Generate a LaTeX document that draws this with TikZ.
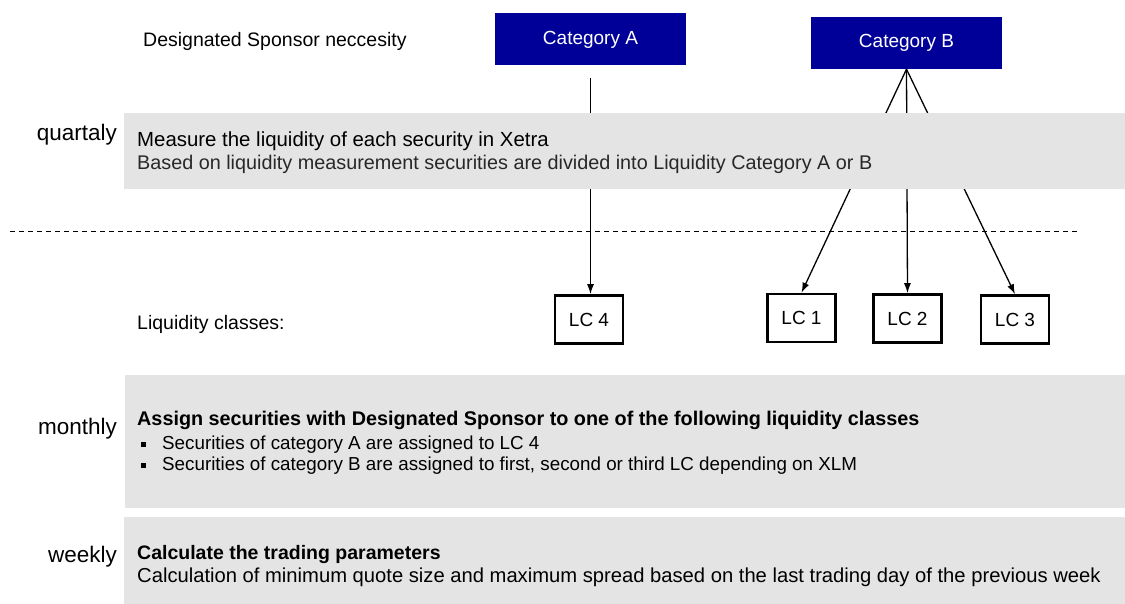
\documentclass[tikz,border=0pt]{standalone}
\usepackage{fontspec}
\setmainfont{Liberation Sans}
\usepackage{xcolor}
\usetikzlibrary{arrows.meta}

\definecolor{catblue}{RGB}{0,0,153}
\definecolor{bandgray}{RGB}{228,228,228}
\definecolor{lighttext}{RGB}{40,40,40}
\newcommand{\sqbul}{\makebox[25pt][l]{\hspace{4pt}\rule[2pt]{5pt}{5pt}}}

\begin{document}
\begin{tikzpicture}[x=1pt, y=-1pt,
	catbox/.style = {fill=catblue, text=white, minimum width=191pt, minimum height=52pt, inner sep=0pt, font=\fontsize{19}{23}\selectfont},
	lcbox/.style = {draw, line width=2.6pt, minimum width=68pt, minimum height=48pt, inner sep=0pt, font=\fontsize{19}{23}\selectfont},
	band/.style = {fill=bandgray, inner sep=0pt, anchor=north west},
	txt/.style = {anchor=base west, inner sep=0pt, font=\fontsize{19.5}{23}\selectfont},
	freq/.style = {anchor=base east, inner sep=0pt, font=\fontsize{22.5}{26}\selectfont},
	conn/.style = {line width=1.3pt, -{Latex[length=10pt, width=7pt]}}]

	\useasboundingbox (0,0) rectangle (1125,604);

	% categories and liquidity classes
	\node[txt] (need) at (143,47) {Designated Sponsor neccesity};
	\node[catbox] (catA) at (590.5,39.5) {Category A};
	\node[catbox] (catB) at (906.5,43) {Category B};

	\node[txt] (lclabel) at (137,330) {Liquidity classes:};
	\node[lcbox] (lc4) at (589,319.5) {LC 4};
	\node[lcbox] (lc1) at (801.5,318) {LC 1};
	\node[lcbox] (lc2) at (907.5,318.5) {LC 2};
	\node[lcbox] (lc3) at (1015,319.5) {LC 3};

	\draw[conn, shorten <=12pt] (catA.south) -- (catA.south |- lc4.north);
	\draw[conn] (catB.south) -- (lc1.north);
	\draw[conn] (catB.south) -- (lc2.north);
	\draw[conn] (catB.south) -- (lc3.north);

	\draw[line width=0.9pt, dash pattern=on 5pt off 4pt] (10,231) -- (1077,231);

	% quarterly step
	\node[band, minimum width=1001pt, minimum height=76pt] (quart) at (124,113) {};
	\node[freq] (fq) at ([shift={(-7,28)}]quart.north west) {quartaly};
	\node[txt, font=\fontsize{20.4}{23}\selectfont] (q1) at ([shift={(13,34)}]quart.north west) {Measure the liquidity of each security in Xetra};
	\node[txt, text=lighttext, font=\fontsize{19.8}{23}\selectfont] (q2) at ([shift={(0,23)}]q1.base west) {Based on liquidity measurement securities are divided into Liquidity Category A or B};

	% monthly step
	\node[band, minimum width=1000pt, minimum height=133pt] (month) at (125,375) {};
	\node[freq] (fm) at ([shift={(-8,59)}]month.north west) {monthly};
	\node[txt, font=\fontsize{19.8}{23}\selectfont] (m1) at ([shift={(12,50)}]month.north west) {\bfseries Assign securities with Designated Sponsor to one of the following liquidity classes};
	\node[txt, font=\fontsize{18.8}{22}\selectfont] (m2) at ([shift={(0,24)}]m1.base west) {\sqbul Securities of category A are assigned to LC 4};
	\node[txt, font=\fontsize{18.8}{22}\selectfont] (m3) at ([shift={(0,21)}]m2.base west) {\sqbul Securities of category B are assigned to first, second or third LC depending on XLM};

	% weekly step
	\node[band, minimum width=1001pt, minimum height=87pt] (week) at (124,517) {};
	\node[freq] (fw) at ([shift={(-7,45)}]week.north west) {weekly};
	\node[txt] (w1) at ([shift={(13,42)}]week.north west) {\bfseries Calculate the trading parameters};
	\node[txt, font=\fontsize{20.2}{23}\selectfont] (w2) at ([shift={(0,23)}]w1.base west) {Calculation of minimum quote size and maximum spread based on the last trading day of the previous week};
\end{tikzpicture}
\end{document}
